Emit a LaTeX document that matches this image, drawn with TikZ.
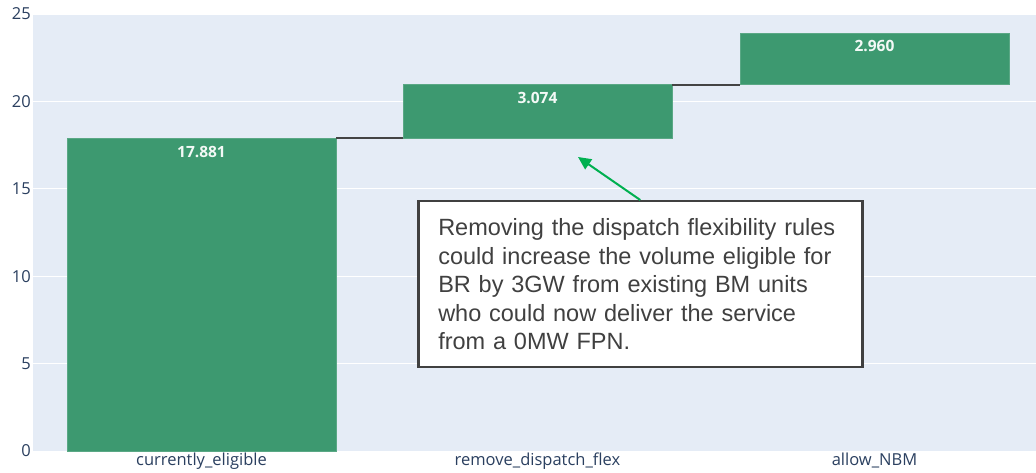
\documentclass[tikz,border=0pt]{standalone}
\usepackage{fontspec}
\setmainfont{Open Sans}
\newfontfamily\notefont{Liberation Sans}
\usepackage{xcolor}
\usepackage{tikz}
\usetikzlibrary{arrows.meta}
\usetikzlibrary{positioning}

\definecolor{plotbg}{HTML}{E5ECF6}
\definecolor{barfill}{HTML}{3D9970}
\definecolor{ticktext}{HTML}{2A3F5F}
\definecolor{stepgrey}{HTML}{444444}
\definecolor{notegrey}{HTML}{404040}
\definecolor{callgreen}{HTML}{00B050}

\tikzset{
  bar/.style={fill=barfill, draw=barfill!85!white, line width=0.6pt,
    inner sep=0pt, outer sep=0pt, minimum width=269pt, anchor=south west},
  barval/.style={inner sep=0pt, anchor=base, text=white!94!barfill,
    font=\fontsize{15.5}{18}\selectfont\bfseries},
  ticklbl/.style={inner sep=0pt, text=ticktext, font=\fontsize{16.5}{18}\selectfont},
  steplink/.style={draw=stepgrey, line width=2pt},
  gridline/.style={draw=white, line width=1.3pt},
  note/.style={draw=notegrey, line width=2.5pt, fill=white, text=notegrey,
    text width=404pt, inner xsep=20pt, minimum height=166pt, align=left,
    font=\notefont\fontsize{23.5}{28.5}\selectfont},
  callout/.style={draw=callgreen, line width=2pt,
    -{Triangle[length=13pt,width=12pt]}, fill=callgreen}
}

\begin{document}
\begin{tikzpicture}[x=1pt, y=1pt]
\useasboundingbox (0,0) rectangle (1036,473);

% plot area and grid (17.48pt per GW)
\fill[plotbg] (33,22) rectangle (1036,460);
\foreach \v in {5,10,...,25}
  \path[gridline] (33,{22+\v*17.48}) -- (1036,{22+\v*17.48});
\foreach \v in {0,5,...,25}
  \node[ticklbl, anchor=east] (tick\v) at (31,{22+\v*17.48}) {\v};

% waterfall bars
\node[bar, minimum height=17.881*17.48pt] (elig) at (67,22) {};
\node[bar, minimum height=3.074*17.48pt] (flex) at ([xshift=67pt]elig.north east) {};
\node[bar, minimum height=2.960*17.48pt] (nbm) at ([xshift=68pt]flex.north east) {};
\path[steplink] (elig.north east) -- (flex.south west);
\path[steplink] (flex.north east) -- (nbm.south west);

\node[barval] (eligval) at ([yshift=-19pt]elig.north) {17.881};
\node[barval] (flexval) at ([yshift=-19pt]flex.north) {3.074};
\node[barval] (nbmval) at ([yshift=-19pt]nbm.north) {2.960};

\node[ticklbl, anchor=base] (eligcat) at ([yshift=-15pt]elig.south) {currently\_eligible};
\node[ticklbl, anchor=base] (flexcat) at ([yshift=-15pt]flex.south |- elig.south) {remove\_dispatch\_flex};
\node[ticklbl, anchor=base] (nbmcat) at ([yshift=-15pt]nbm.south |- elig.south) {allow\_NBM};

% annotation
\node[note, anchor=north west] (note) at (417,273)
  {Removing the dispatch flexibility rules\\
   could increase the volume eligible for\\
   BR by 3GW from existing BM units\\
   who could now deliver the service\\
   from a 0MW FPN.};
\coordinate (tip) at (578,316);
\path[callout] (note.north) -- (tip);

\end{tikzpicture}
\end{document}
